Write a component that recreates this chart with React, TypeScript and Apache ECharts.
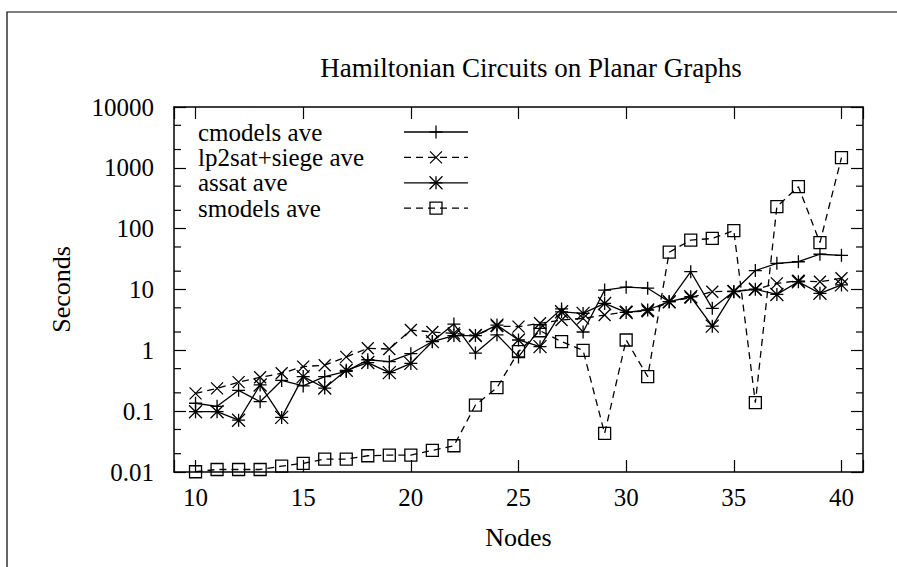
import React, { useEffect, useRef } from "react";
import * as echarts from "echarts";

// ---------- data ----------
const nodes = [10, 11, 12, 13, 14, 15, 16, 17, 18, 19, 20, 21, 22, 23, 24, 25, 26, 27, 28, 29, 30, 31, 32, 33, 34, 35, 36, 37, 38, 39, 40];

const cmodelsAve = [0.135, 0.12, 0.22, 0.143, 0.32, 0.26, 0.37, 0.45, 0.7, 0.65, 0.88, 1.4, 2.7, 0.9, 1.8, 0.78, 2.3, 4.8, 2.0, 9.8, 10.9, 10.5, 6.3, 19.6, 4.9, 9.3, 20.5, 26.9, 28.6, 38, 36.5];
const lp2satSiegeAve = [0.196, 0.237, 0.3, 0.36, 0.42, 0.54, 0.57, 0.78, 1.08, 1.05, 2.16, 2.0, 1.9, 1.75, 2.5, 2.45, 2.78, 3.15, 3.35, 3.8, 4.3, 4.4, 6.2, 7.4, 9.2, 9.4, 10, 12.6, 13.9, 13.4, 15.3];
const assatAve = [0.098, 0.098, 0.071, 0.27, 0.079, 0.37, 0.24, 0.47, 0.63, 0.43, 0.61, 1.39, 1.75, 1.75, 2.6, 1.48, 1.15, 4.3, 4.05, 5.9, 4.2, 4.6, 6.3, 7.6, 2.5, 9.2, 10.1, 8.3, 13.4, 8.65, 11.9];
const smodelsAve = [0.0101, 0.011, 0.011, 0.011, 0.0125, 0.0139, 0.0163, 0.0163, 0.0185, 0.019, 0.019, 0.0227, 0.027, 0.126, 0.243, 0.95, 2.1, 1.39, 1.0, 0.043, 1.48, 0.37, 41, 65, 69, 93, 0.138, 230, 490, 59, 1470];

const seriesNames = ["cmodels ave", "lp2sat+siege ave", "assat ave", "smodels ave"];
const xTickLabels = [10, 15, 20, 25, 30, 35, 40];
const yTickLabels = ["0.01", "0.1", "1", "10", "100", "1000", "10000"];
const yMinorTicks = [0.02, 0.05, 0.2, 0.5, 2, 5, 20, 50, 200, 500, 2000, 5000];
const xRange = [9, 41];
const yRange = [0.01, 10000];

const titleText = "Hamiltonian Circuits on Planar Graphs";
const xName = "Nodes";
const yName = "Seconds";

// ---------- styling ----------
const FONT = "'Liberation Serif', 'Times New Roman', serif";
const INK = "#000";
const LW = 1.3;
const DASH = [7, 5];

const SYM_PLUS = "path://M0,-1L0,1M-1,0L1,0";
const SYM_CROSS = "path://M-1,-1L1,1M-1,1L1,-1";
const SYM_STAR = "path://M0,-1L0,1M-1,0L1,0M-1,-1L1,1M-1,1L1,-1";
const SYM_BOX = "path://M-1,-1L1,-1L1,1L-1,1Z";

const kinds = ["plus", "cross", "star", "box"];
const symbols = [SYM_PLUS, SYM_CROSS, SYM_STAR, SYM_BOX];
const dashed = [false, true, false, true];
const symSizes = [13, 12, 13, 12];
const allValues = [cmodelsAve, lp2satSiegeAve, assatAve, smodelsAve];

function markerGraphic(kind: string, cx: number, cy: number, size: number) {
  const h = size / 2;
  const st = { stroke: INK, lineWidth: LW, fill: "none" };
  const line = (x1: number, y1: number, x2: number, y2: number) => ({
    type: "line",
    shape: { x1, y1, x2, y2 },
    style: st,
    silent: true,
  });
  const plus = [line(cx, cy - h, cx, cy + h), line(cx - h, cy, cx + h, cy)];
  const cross = [line(cx - h, cy - h, cx + h, cy + h), line(cx - h, cy + h, cx + h, cy - h)];
  if (kind === "plus") return plus;
  if (kind === "cross") return cross;
  if (kind === "star") return [...plus, ...cross];
  return [
    {
      type: "rect",
      shape: { x: cx - h, y: cy - h, width: size, height: size },
      style: { stroke: INK, lineWidth: LW, fill: "none" },
      silent: true,
    },
  ];
}

function yLabel(v: number) {
  for (const t of yTickLabels) {
    if (Math.abs(Math.log10(Number(t)) - Math.log10(v)) < 1e-6) return t;
  }
  return "";
}

export default function App() {
  const ref = useRef<HTMLDivElement>(null);

  useEffect(() => {
    if (!ref.current) return;
    const chart = echarts.init(ref.current, undefined, { renderer: "svg" });

    const axisLine = { show: true, lineStyle: { color: INK, width: 1.5 } };
    const majorTick = { show: true, inside: true, length: 12, lineStyle: { color: INK, width: 1.2 } };
    const labelStyle = { color: INK, fontFamily: FONT, fontSize: 25 };
    const nameStyle = { color: INK, fontFamily: FONT, fontSize: 26 };

    const lineSeries = seriesNames.map((name, i) => ({
      name,
      type: "line",
      xAxisIndex: 0,
      yAxisIndex: 0,
      data: nodes.map((n, j) => [n, allValues[i][j]]),
      symbol: symbols[i],
      symbolSize: symSizes[i],
      showSymbol: true,
      showAllSymbol: true,
      lineStyle: { color: INK, width: LW, type: dashed[i] ? DASH : "solid" },
      itemStyle: { color: "none", borderColor: INK, borderWidth: LW },
      emphasis: { disabled: true },
      z: 3 + i,
    }));

    const minorTickSeries = {
      type: "custom",
      xAxisIndex: 0,
      yAxisIndex: 0,
      silent: true,
      clip: false,
      data: yMinorTicks.map((v) => [xRange[0], v]),
      encode: { x: 0, y: 1 },
      renderItem: (params: any, api: any) => {
        const v = api.value(1);
        const l = api.coord([xRange[0], v]);
        const r = api.coord([xRange[1], v]);
        const st = { stroke: INK, lineWidth: 1.2 };
        return {
          type: "group",
          children: [
            { type: "line", shape: { x1: l[0], y1: l[1], x2: l[0] + 7, y2: l[1] }, style: st },
            { type: "line", shape: { x1: r[0] - 7, y1: r[1], x2: r[0], y2: r[1] }, style: st },
          ],
        };
      },
      z: 2,
    };

    // legend drawn in gnuplot style: text left, sample at right
    const legendX = 198;
    const legendTop = 132;
    const legendStep = 25.4;
    const sampleX1 = 404;
    const sampleX2 = 468;
    const legendGraphics: any[] = [];
    seriesNames.forEach((name, i) => {
      const y = legendTop + i * legendStep;
      legendGraphics.push({
        type: "text",
        x: legendX,
        y,
        silent: true,
        style: {
          text: name,
          fill: INK,
          fontFamily: FONT,
          fontSize: 25,
          lineHeight: 23,
          align: "left",
          verticalAlign: "middle",
        },
      });
      legendGraphics.push({
        type: "line",
        silent: true,
        shape: { x1: sampleX1, y1: y, x2: sampleX2, y2: y },
        style: { stroke: INK, lineWidth: LW, lineDash: dashed[i] ? DASH : null },
      });
      legendGraphics.push(...markerGraphic(kinds[i], (sampleX1 + sampleX2) / 2, y, symSizes[i]));
    });

    const option: any = {
      animation: false,
      backgroundColor: "#fff",
      title: {
        text: titleText,
        left: 531,
        top: 54,
        textAlign: "center",
        padding: 0,
        textStyle: { color: INK, fontFamily: FONT, fontSize: 27, fontWeight: "normal" },
      },
      grid: { left: 174, top: 107, right: 34, bottom: 95, containLabel: false, outerBoundsMode: "none" },
      xAxis: [
        {
          type: "value",
          position: "bottom",
          min: xRange[0],
          max: xRange[1],
          axisLine,
          axisTick: majorTick,
          splitLine: { show: false },
          axisLabel: {
            ...labelStyle,
            margin: 13,
            formatter: (v: number) => (xTickLabels.includes(v) ? String(v) : ""),
          },
          name: xName,
          nameLocation: "middle",
          nameGap: 52,
          nameTextStyle: nameStyle,
        },
        {
          type: "value",
          position: "top",
          min: xRange[0],
          max: xRange[1],
          axisLine,
          axisTick: majorTick,
          splitLine: { show: false },
          axisLabel: { show: false },
        },
      ],
      yAxis: [
        {
          type: "log",
          logBase: 10,
          position: "left",
          min: yRange[0],
          max: yRange[1],
          axisLine,
          axisTick: majorTick,
          splitLine: { show: false },
          axisLabel: { ...labelStyle, margin: 20, formatter: (v: number) => yLabel(v) },
          name: yName,
          nameLocation: "middle",
          nameGap: 100,
          nameTextStyle: nameStyle,
        },
        {
          type: "log",
          logBase: 10,
          position: "right",
          min: yRange[0],
          max: yRange[1],
          axisLine,
          axisTick: majorTick,
          splitLine: { show: false },
          axisLabel: { show: false },
        },
      ],
      graphic: [
        {
          type: "rect",
          silent: true,
          shape: { x: 7, y: 12, width: 900, height: 570 },
          style: { stroke: INK, lineWidth: 1.2, fill: "none" },
          z: 0,
        },
        ...legendGraphics,
      ],
      series: [...lineSeries, minorTickSeries],
    };

    chart.setOption(option);
    return () => chart.dispose();
  }, []);

  return (
    <div
      ref={ref}
      style={{ position: "fixed", left: 0, top: 0, width: 897, height: 567, background: "#fff" }}
    />
  );
}
